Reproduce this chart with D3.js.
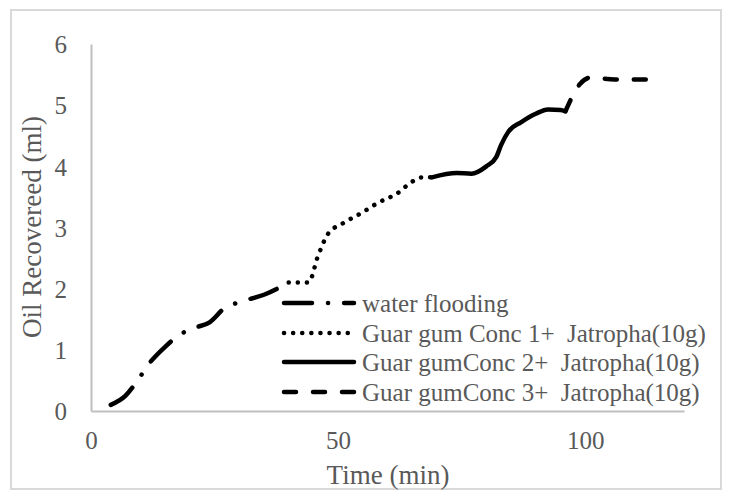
<!DOCTYPE html>
<html>
<head>
<meta charset="utf-8">
<script src="https://cdn.jsdelivr.net/npm/d3@7"></script>
<style>
  html, body { margin: 0; padding: 0; background: #fff; }
  svg text { font-family: "Liberation Serif", "Times New Roman", serif; fill: #595959; white-space: pre; }
</style>
</head>
<body>
<svg id="chart" width="729" height="502"></svg>
<script>
// ---- data ----
const waterTime  = [4, 7, 9, 12, 15, 18, 21, 24, 27, 30, 35, 40];
const waterOil   = [0.1, 0.25, 0.45, 0.8, 1.05, 1.25, 1.36, 1.45, 1.68, 1.78, 1.9, 2.1];
const conc1Time  = [40, 44, 46, 48, 51, 55, 58, 62, 65, 67, 69];
const conc1Oil   = [2.1, 2.1, 2.55, 2.9, 3.07, 3.25, 3.4, 3.56, 3.75, 3.82, 3.82];
const conc2Time  = [69, 74, 77, 80, 82, 83, 84.5, 87, 90, 92.5, 95, 96];
const conc2Oil   = [3.82, 3.89, 3.88, 4.0, 4.15, 4.35, 4.57, 4.72, 4.86, 4.93, 4.92, 4.9];
const conc3Time  = [96, 99, 101, 106, 113];
const conc3Oil   = [4.9, 5.35, 5.45, 5.42, 5.42];
const seriesNames = ["water flooding", "Guar gum Conc 1+  Jatropha(10g)", "Guar gumConc 2+  Jatropha(10g)", "Guar gumConc 3+  Jatropha(10g)"];
const xTicks = [0, 50, 100];
const yTicks = [0, 1, 2, 3, 4, 5, 6];

const dashes = ["28,16,0.1,16", "0.1,9", null, "12,17"];
const series = [
  {name: seriesNames[0], t: waterTime, v: waterOil, dash: dashes[0]},
  {name: seriesNames[1], t: conc1Time, v: conc1Oil, dash: dashes[1]},
  {name: seriesNames[2], t: conc2Time, v: conc2Oil, dash: dashes[2]},
  {name: seriesNames[3], t: conc3Time, v: conc3Oil, dash: dashes[3]}
];

const svg = d3.select("#chart");
// outer border
svg.append("rect").attr("x", 11).attr("y", 10).attr("width", 710).attr("height", 479)
  .attr("fill", "#fff").attr("stroke", "#d9d9d9").attr("stroke-width", 2);

const x = d3.scaleLinear().domain([0, 120]).range([91, 684]);
const y = d3.scaleLinear().domain([0, 6]).range([411, 44]);

// axes
const xAxis = svg.append("g").attr("transform", `translate(0,${y(0)})`)
  .call(d3.axisBottom(x).tickValues(xTicks).tickSize(0).tickPadding(20).tickFormat(d3.format("d")));
const yAxis = svg.append("g").attr("transform", `translate(${x(0)},0)`)
  .call(d3.axisLeft(y).tickValues(yTicks).tickSize(0).tickPadding(24).tickFormat(d3.format("d")));
[xAxis, yAxis].forEach(g => {
  g.select(".domain").attr("stroke", "#bfbfbf").attr("stroke-width", 2);
  g.selectAll("text").style("font-size", "25px").attr("fill", "#595959")
   .style("font-family", '"Liberation Serif", "Times New Roman", serif');
});
yAxis.selectAll("text").attr("dy", "0.35em");
xAxis.selectAll("text").attr("dy", "0.71em");

// axis titles
svg.append("text").attr("x", 388).attr("y", 484).attr("text-anchor", "middle")
  .style("font-size", "27px").text("Time (min)");
svg.append("text").attr("transform", "translate(41,227) rotate(-90)")
  .attr("text-anchor", "middle").style("font-size", "27px").text("Oil Recovereed (ml)");

// lines
const line = d3.line().x(d => x(d[0])).y(d => y(d[1])).curve(d3.curveMonotoneX);
series.forEach(s => {
  const pts = s.t.map((t, i) => [t, s.v[i]]);
  const p = svg.append("path").attr("d", line(pts)).attr("fill", "none")
    .attr("stroke", "#000").attr("stroke-width", 4.5).attr("stroke-linecap", "round")
    .attr("stroke-linejoin", "round");
  if (s.dash) p.attr("stroke-dasharray", s.dash);
});

// legend
const legY = [303, 333, 362, 392];
series.forEach((s, i) => {
  const g = svg.append("g");
  const l = g.append("line").attr("x1", 284).attr("x2", 354).attr("y1", legY[i]).attr("y2", legY[i])
    .attr("stroke", "#000").attr("stroke-width", 4.5).attr("stroke-linecap", "round");
  if (s.dash) l.attr("stroke-dasharray", s.dash);
  g.append("text").attr("x", 362).attr("y", legY[i]).attr("dy", "0.35em")
    .attr("xml:space", "preserve")
    .style("font-size", "25px").text(s.name);
});
</script>
</body>
</html>
